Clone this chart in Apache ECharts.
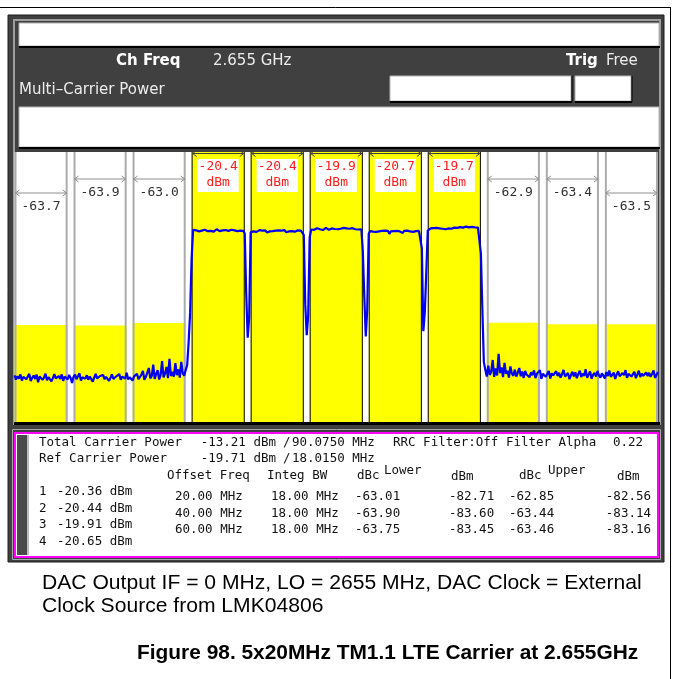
<!DOCTYPE html>
<html><head><meta charset="utf-8">
<script src="https://cdn.jsdelivr.net/npm/echarts/dist/echarts.min.js"></script>
<style>html,body{margin:0;padding:0;background:#fff}#c{width:673px;height:679px}</style>
</head><body><div id="c"></div>
<script>
// ---------------- data ----------------
const chFreqText = '2.655 GHz';
const spanMHz = [-109, 109];          // frequency offset from 2.655 GHz
const integBwMHz = 18;
const carrierCentersMHz = [-40, -20, 0, 20, 40];
const carrierPowerDbm = [-20.4, -20.4, -19.9, -20.7, -19.7];
const offsetCentersMHz = [-100, -80, -60, 60, 80, 100];
const offsetDbc = [-63.75, -63.90, -63.01, -62.85, -63.44, -63.46];
const offsetLabels = ['-63.7', '-63.9', '-63.0', '-62.9', '-63.4', '-63.5'];
const yRange = [-100, 1];             // dB relative to reference (10 dB/div)

// trace (dB rel. reference), one value every traceStepMHz starting at traceStartMHz
const traceStartMHz = -109, traceStepMHz = 0.5;
const noiseLowerBand = [
 -82.6,-84.1,-82.9,-83.8,-82.2,-84.5,-83.1,-82.4,-84.0,-83.3,
 -82.0,-84.7,-83.5,-82.6,-83.9,-82.3,-85.1,-83.0,-82.7,-84.2,
 -83.4,-81.9,-84.4,-83.2,-82.5,-84.8,-83.6,-82.1,-83.7,-84.3,
 -82.8,-83.9,-82.2,-84.6,-83.0,-82.9,-84.1,-82.4,-83.5,-85.4,
 -83.1,-82.3,-84.0,-83.6,-81.8,-84.5,-83.3,-82.7,-83.8,-82.5,
 -84.2,-83.0,-82.6,-84.9,-83.4,-82.0,-83.7,-84.4,-82.8,-83.2,
 -82.4,-84.0,-83.1,-82.7,-84.6,-83.5,-82.2,-83.9,-84.3,-82.9,
 -83.6,-82.1,-84.2,-83.0,-82.5,-83.8,-81.6,-84.1,-83.3,-82.6,
 -84.5,-82.9,-83.4,-82.0,-84.0,-83.6,-82.3,-80.9,-84.2,-83.1,
 -82.4,-79.8,-83.7,-82.8,-78.5,-83.9,-82.0,-80.6,-84.1,-82.5,
 -77.2,-83.3,-81.9,-79.4,-83.6,-76.4,-82.8,-81.2,-83.0,-78.0,
 -82.5,-80.3,-83.4,-77.5,-81.8,-82.7];
const riseLower = [-80.5,-78.7,-70.0,-59.0,-39.0];
const carrier1 = [
 -28.1,-28.6,-28.3,-28.0,-28.7,-28.2,-28.4,-28.9,-28.1,-28.3,
 -28.6,-28.0,-28.5,-28.2,-28.8,-28.3,-27.9,-28.4,-28.6,-28.1,
 -28.3,-28.7,-28.2,-28.0,-28.5,-28.4,-28.1,-28.8,-28.3,-28.2,
 -28.6,-27.9,-28.4,-28.2,-28.5];
const gap12 = [-29.5,-52.0,-68.5,-61.0];
const carrier2 = [
 -29.0,-28.4,-28.7,-28.3,-28.9,-28.5,-28.2,-28.8,-28.4,-28.6,
 -28.3,-29.1,-28.5,-28.7,-28.2,-28.6,-28.9,-28.4,-28.5,-28.3,
 -28.8,-28.4,-28.6,-28.2,-29.0,-28.5,-28.7,-28.3,-28.6,-28.4,
 -28.8,-28.5,-28.3,-28.7,-28.4,-28.6];
const gap23 = [-30.0,-56.0,-67.5,-60.0];
const carrier3 = [
 -31.0,-28.0,-27.7,-28.1,-27.8,-27.5,-28.0,-27.9,-27.6,-28.2,
 -27.8,-27.4,-27.9,-28.1,-27.7,-27.6,-28.0,-27.8,-27.5,-27.9,
 -28.2,-27.7,-27.8,-27.4,-28.0,-27.6,-27.9,-27.7,-28.1,-27.5,
 -27.8,-27.9,-27.6,-28.0,-27.7,-27.9];
const gap34 = [-36.0,-53.0,-68.0,-58.0];
const carrier4 = [
 -29.5,-28.6,-28.4,-28.8,-28.5,-28.9,-28.3,-28.7,-29.4,-28.5,
 -28.6,-28.4,-28.8,-28.5,-29.6,-28.7,-28.4,-28.6,-28.9,-28.5,
 -28.3,-28.7,-28.6,-29.3,-28.5,-28.8,-28.4,-28.6,-28.7,-28.5,
 -28.9,-28.4,-28.6,-28.8,-28.5,-28.7];
const gap45 = [-35.0,-66.0,-59.0,-44.0];
const carrier5 = [
 -28.4,-27.8,-27.6,-27.9,-27.5,-27.7,-27.4,-27.8,-27.6,-27.3,
 -27.7,-27.5,-27.9,-27.4,-27.6,-27.2,-27.7,-27.5,-27.3,-27.8,
 -27.4,-27.6,-27.1,-27.5,-27.3,-27.7,-26.9,-27.4,-27.2,-27.6,
 -27.0,-27.4,-27.2,-26.8,-27.3,-27.5];
const fallUpper = [-37.0,-58.0,-77.5];
const noiseUpperBand = [
 -80.5,-83.0,-78.9,-82.4,-81.2,-76.8,-83.1,-80.0,-82.6,-74.5,
 -81.7,-79.6,-83.2,-77.9,-82.0,-80.8,-83.4,-79.2,-81.9,-82.7,
 -80.4,-83.0,-81.5,-79.8,-82.9,-81.1,-83.5,-80.9,-82.3,-81.6,
 -83.2,-81.4,-82.5,-80.7,-83.6,-81.9,-82.2,-80.6,-83.8,-82.0,
 -81.3,-83.1,-82.4,-80.9,-83.7,-81.8,-82.6,-83.3,-81.0,-82.8,
 -81.6,-83.4,-82.1,-80.5,-83.0,-82.3,-81.7,-84.0,-82.5,-81.2,
 -82.9,-81.4,-83.6,-82.0,-80.8,-83.2,-81.9,-82.7,-80.3,-83.5,
 -82.2,-81.1,-83.8,-82.4,-81.6,-83.0,-80.9,-82.6,-83.4,-81.8,
 -82.1,-83.7,-81.3,-82.8,-80.7,-83.1,-82.4,-81.5,-83.9,-82.2,
 -81.0,-82.9,-83.3,-81.7,-82.5,-80.6,-83.5,-82.0,-81.4,-83.0,
 -82.6,-81.2,-83.6,-82.3,-80.8,-83.2,-81.9,-82.7,-83.4,-81.5,
 -82.8,-81.6,-83.1,-82.0,-80.7,-83.5,-82.4,-81.3];

// table
const totalCarrierPower = '-13.21';
const totalBw = '90.0750';
const refCarrierPower = '-19.71';
const refBw = '18.0150';
const filterAlpha = '0.22';
const carrierTablePowers = ['-20.36', '-20.44', '-19.91', '-20.65'];
const offsetFreqs = ['20.00', '40.00', '60.00'];
const offsetIntegBw = ['18.00', '18.00', '18.00'];
const lowerDbcTable = ['-63.01', '-63.90', '-63.75'];
const lowerDbmTable = ['-82.71', '-83.60', '-83.45'];
const upperDbcTable = ['-62.85', '-63.44', '-63.46'];
const upperDbmTable = ['-82.56', '-83.14', '-83.16'];

const noteLine1 = 'DAC Output IF = 0 MHz, LO = 2655 MHz, DAC Clock = External';
const noteLine2 = 'Clock Source from LMK04806';
const figCaption = 'Figure 98. 5x20MHz TM1.1 LTE Carrier at 2.655GHz';

// ---------------- build ----------------
const traceValues = [].concat(noiseLowerBand, riseLower, carrier1, gap12, carrier2, gap23,
  carrier3, gap34, carrier4, gap45, carrier5, fallUpper, noiseUpperBand);
const traceData = traceValues.map((v, i) => [traceStartMHz + i * traceStepMHz, v]);

const columns = [];
offsetCentersMHz.forEach((c, i) => columns.push({c, kind: 'offset', v: offsetDbc[i], label: offsetLabels[i],
  tier: (i === 0 || i === offsetCentersMHz.length - 1) ? 1 : 0}));
carrierCentersMHz.forEach((c, i) => columns.push({c, kind: 'carrier', v: yRange[1], label: carrierPowerDbm[i].toFixed(1)}));

const MONO = '"DejaVu Sans Mono", "Liberation Mono", monospace';
const SANS = '"DejaVu Sans", sans-serif';

function vline(x, y0, y1, color, w) {
  return {type: 'line', shape: {x1: x, y1: y0, x2: x, y2: y1}, style: {stroke: color, lineWidth: w}};
}
function arrow(ch, x0, x1, y, color) {
  ch.push({type: 'line', shape: {x1: x0 + 1, y1: y, x2: x1 - 1, y2: y}, style: {stroke: color, lineWidth: 1}});
  ch.push({type: 'polyline', shape: {points: [[x0 + 5, y - 3], [x0 + 1, y], [x0 + 5, y + 3]]}, style: {stroke: color, lineWidth: 1, fill: null}});
  ch.push({type: 'polyline', shape: {points: [[x1 - 5, y - 3], [x1 - 1, y], [x1 - 5, y + 3]]}, style: {stroke: color, lineWidth: 1, fill: null}});
}
function txt(ch, x, y, s, color) {
  ch.push({type: 'text', style: {text: s, x: x, y: y, textAlign: 'center', textVerticalAlign: 'middle',
    font: '13px ' + MONO, fill: color}});
}
function renderColumn(params, api) {
  const col = columns[params.dataIndex];
  const half = integBwMHz / 2;
  const tl = api.coord([col.c - half, yRange[1]]);
  const br = api.coord([col.c + half, yRange[0]]);
  const x0 = tl[0], x1 = br[0], yT = tl[1], yB = br[1];
  const ch = [];
  const cx = (x0 + x1) / 2;
  if (col.kind === 'carrier') {
    ch.push({type: 'rect', shape: {x: x0, y: yT, width: x1 - x0, height: yB - yT}, style: {fill: '#ffff00'}});
    ch.push(vline(x0 + 0.5, yT, yB, '#000', 1));
    ch.push(vline(x1 - 0.5, yT, yB, '#000', 1));
    arrow(ch, x0, x1, yT + 1.5, '#404040');
    ch.push({type: 'rect', shape: {x: x0 + 6, y: yT + 7, width: x1 - x0 - 12, height: 33}, style: {fill: '#fff'}});
    txt(ch, cx, yT + 15, col.label, '#ff1e1e');
    txt(ch, cx, yT + 31, 'dBm', '#ff1e1e');
  } else {
    const lv = api.coord([col.c, col.v])[1];
    ch.push({type: 'rect', shape: {x: x0, y: lv, width: x1 - x0, height: yB - lv}, style: {fill: '#ffff00'}});
    ch.push(vline(x0 + 1, yT, yB, '#ababab', 2));
    ch.push(vline(x1 - 1, yT, yB, '#ababab', 2));
    const ay = yT + (col.tier ? 41 : 27);
    arrow(ch, x0, x1, ay, '#8f8f8f');
    txt(ch, cx, ay + 14, col.label, '#303030');
  }
  return {type: 'group', children: ch};
}

// ---------- static panel ----------
const G = [];
function rect(x, y, w, h, fill, stroke, lw) { G.push({type: 'rect', shape: {x, y, width: w, height: h}, style: {fill: fill || null, stroke: stroke || null, lineWidth: lw || 1}}); }
function line(x1, y1, x2, y2, c, w) { G.push({type: 'line', shape: {x1, y1, x2, y2}, style: {stroke: c, lineWidth: w || 1}}); }
function T(s, x, y, font, fill, align) { G.push({type: 'text', style: {text: s, x, y, font, fill, textAlign: align || 'left', textVerticalAlign: 'middle'}}); }

line(0, 7.5, 670.5, 7.5, '#000', 1);
line(670.5, 7, 670.5, 679, '#000', 1);
rect(8, 15, 656, 547, '#404040', '#1c1c1c', 1);
line(14, 20, 14, 425, '#9e9e9e', 2);
line(13, 20, 661, 20, '#9e9e9e', 2);
line(660, 20, 660, 425, '#9e9e9e', 2);
// top bar
rect(19, 23, 640, 23, '#fff', '#b4b4b4', 1);
line(19, 47, 660, 47, '#000', 2);
// header
T('Ch Freq', 116, 61, 'bold 15px ' + SANS, '#ffffff');
T(chFreqText, 213, 61, '15px ' + SANS, '#ececec');
T('Trig', 566, 61, 'bold 15px ' + SANS, '#ffffff');
T('Free', 606, 61, '15px ' + SANS, '#ececec');
T('Multi\u2013Carrier Power', 19, 90, '15px ' + SANS, '#ececec');
rect(390, 76, 181, 25, '#fff', '#b4b4b4', 1);
line(390, 102, 572, 102, '#000', 2); line(572, 76, 572, 102, '#000', 1);
rect(575, 76, 56, 25, '#fff', '#b4b4b4', 1);
line(575, 102, 632, 102, '#000', 2); line(632, 76, 632, 102, '#000', 1);
// big box
rect(19, 107, 640, 40, '#fff', '#b4b4b4', 1);
line(19, 148, 660, 148, '#000', 2);
// plot background
rect(14.5, 152, 643.5, 270, '#ffffff', null, 0);
line(14, 423.5, 660, 423.5, '#000', 3);
// table
rect(12.5, 429.5, 648, 130, null, '#a6a6a6', 1);
rect(15, 433, 643, 124, '#fff', '#ff00ff', 2);
rect(17, 435, 10, 120, '#4a4a4a', null, 0);
line(28, 435, 28, 555, '#bdbdbd', 2);

const TF = '12.5px ' + MONO;
const TC = '#111';
T('Total Carrier Power', 39, 443, TF, TC);
T(totalCarrierPower + ' dBm', 276, 443, TF, TC, 'right');
T('/', 283, 443, TF, TC);
T(totalBw + ' MHz', 292, 443, TF, TC);
T('RRC Filter:Off Filter Alpha', 393, 443, TF, TC);
T(filterAlpha, 643, 443, TF, TC, 'right');
T('Ref Carrier Power', 39, 459, TF, TC);
T(refCarrierPower + ' dBm', 276, 459, TF, TC, 'right');
T('/', 283, 459, TF, TC);
T(refBw + ' MHz', 292, 459, TF, TC);
T('Offset Freq', 167, 476, TF, TC);
T('Integ BW', 267, 476, TF, TC);
T('dBc', 357, 476, TF, TC);
T('Lower', 384, 471, TF, TC);
T('dBm', 451, 477, TF, TC);
T('dBc', 519, 476, TF, TC);
T('Upper', 548, 471, TF, TC);
T('dBm', 617, 477, TF, TC);
carrierTablePowers.forEach((p, i) => {
  T(String(i + 1), 39, 492 + 16.5 * i, TF, TC);
  T(p + ' dBm', 57, 492 + 16.5 * i, TF, TC);
});
offsetFreqs.forEach((f, i) => {
  const y = 497 + 16.5 * i;
  T(f + ' MHz', 175, y, TF, TC);
  T(offsetIntegBw[i] + ' MHz', 271, y, TF, TC);
  T(lowerDbcTable[i], 355, y, TF, TC);
  T(lowerDbmTable[i], 449, y, TF, TC);
  T(upperDbcTable[i], 509, y, TF, TC);
  T(upperDbmTable[i], 651, y, TF, TC, 'right');
});
// notes
T(noteLine1, 42, 583, '21.1px "Liberation Sans", Arial, sans-serif', '#000');
T(noteLine2, 42, 606, '21.1px "Liberation Sans", Arial, sans-serif', '#000');
T(figCaption, 137, 653, 'bold 20.9px "Liberation Sans", Arial, sans-serif', '#000');

const chart = echarts.init(document.getElementById('c'), null, {renderer: 'canvas'});
chart.setOption({
  animation: false,
  backgroundColor: '#ffffff',
  graphic: {elements: G},
  grid: {left: 14.5, right: 15, top: 152, bottom: 257, show: false},
  xAxis: {type: 'value', min: spanMHz[0], max: spanMHz[1], show: false},
  yAxis: {type: 'value', min: yRange[0], max: yRange[1], show: false},
  series: [
    {type: 'custom', z: 2, renderItem: renderColumn, data: columns.map(c => [c.c, c.v]), silent: true, clip: false},
    {type: 'line', z: 3, data: traceData, showSymbol: false, symbol: 'none',
     lineStyle: {color: '#0000f2', width: 2.2}, silent: true}
  ]
});
</script></body></html>
